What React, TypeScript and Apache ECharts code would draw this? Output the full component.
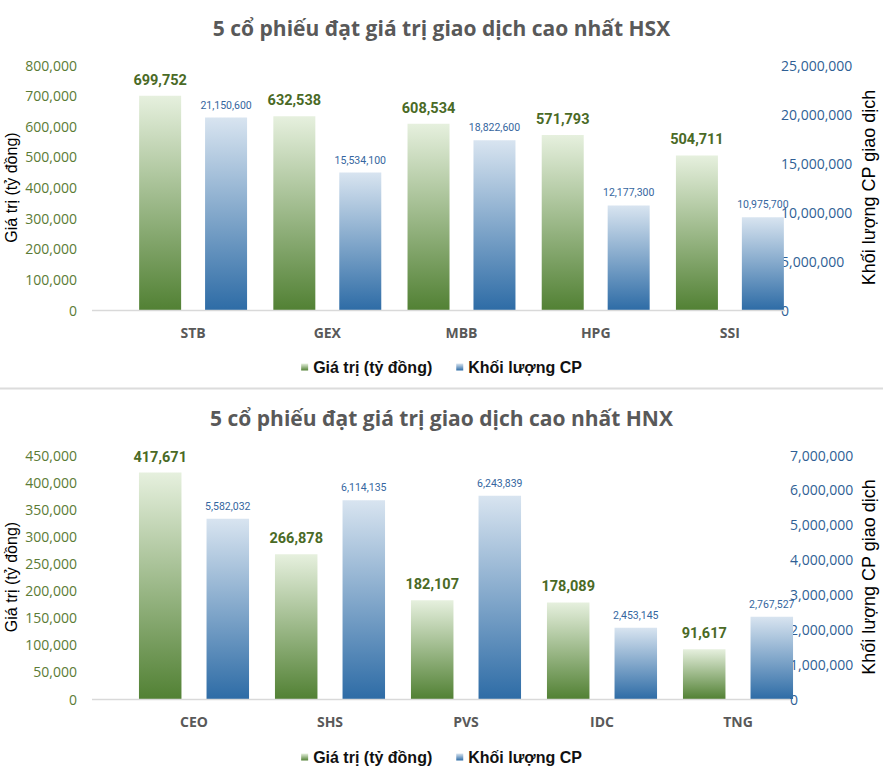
import React, { useEffect, useRef } from "react";
import * as echarts from "echarts";

// ---------- Data ----------
const hsxCategories = ["STB", "GEX", "MBB", "HPG", "SSI"];
const hsxValue = [699752, 632538, 608534, 571793, 504711];
const hsxVolume = [21150600, 15534100, 18822600, 12177300, 10975700];

const hnxCategories = ["CEO", "SHS", "PVS", "IDC", "TNG"];
const hnxValue = [417671, 266878, 182107, 178089, 91617];
const hnxVolume = [5582032, 6114135, 6243839, 2453145, 2767527];

// axis tick ranges (labels): [min, max, interval]
const hsxLeftTicks = [0, 800000, 100000];
const hsxRightTicks = [0, 25000000, 5000000];
const hnxLeftTicks = [0, 450000, 50000];
const hnxRightTicks = [0, 7000000, 1000000];
// the reference's volume bars sit slightly below their labelled scale
const hsxVolumeScale = [1510000, 26510000];
const hnxVolumeScale = [410000, 7410000];

const titleHSX = "5 cổ phiếu đạt giá trị giao dịch cao nhất HSX";
const titleHNX = "5 cổ phiếu đạt giá trị giao dịch cao nhất HNX";
const nameValue = "Giá trị (tỷ đồng)";
const nameVolume = "Khối lượng CP";
const leftAxisName = "Giá trị (tỷ đồng)";
const rightAxisName = "Khối lượng CP giao dịch";

const fmt = (v: number) => Number(v).toLocaleString("en-US");

const GREEN_TICK = "#5b7b35";
const GREEN_LABEL = "#4a6a26";
const BLUE_TICK = "#2f5f95";
const BLUE_LABEL = "#3566a0";
const NARROW = "'Liberation Sans Narrow','Arial Narrow',Roboto,sans-serif";

const greenGrad = () =>
  new echarts.graphic.LinearGradient(0, 0, 0, 1, [
    { offset: 0, color: "#e6f0de" },
    { offset: 1, color: "#528134" },
  ]);
const blueGrad = () =>
  new echarts.graphic.LinearGradient(0, 0, 0, 1, [
    { offset: 0, color: "#d8e4f0" },
    { offset: 1, color: "#2e6ca6" },
  ]);

function leftAxis(grid: number, t: number[]) {
  return {
    gridIndex: grid,
    type: "value",
    position: "left",
    min: t[0],
    max: t[1],
    interval: t[2],
    offset: 41,
    axisLine: { show: false },
    axisTick: { show: false },
    splitLine: { show: false },
    axisLabel: {
      margin: 8,
      formatter: fmt,
      color: GREEN_TICK,
      fontFamily: "'Open Sans', sans-serif",
      fontSize: 14,
    },
    name: leftAxisName,
    nameLocation: "middle",
    nameRotate: 90,
    nameGap: 66,
    nameMoveOverlap: false,
    nameTextStyle: { fontFamily: "'Liberation Sans', Arial, sans-serif", fontSize: 16, color: "#000" },
  };
}
function hiddenAxis(grid: number, s: number[]) {
  return { gridIndex: grid, type: "value", position: "right", show: false, min: s[0], max: s[1] };
}
function rightAxis(grid: number, t: number[], gap: number) {
  return {
    gridIndex: grid,
    type: "value",
    position: "right",
    min: t[0],
    max: t[1],
    interval: t[2],
    offset: -20,
    axisLine: { show: false },
    axisTick: { show: false },
    splitLine: { show: false },
    axisLabel: {
      margin: 4,
      formatter: fmt,
      color: BLUE_TICK,
      fontFamily: "'Open Sans', sans-serif",
      fontSize: 14,
    },
    name: rightAxisName,
    nameLocation: "middle",
    nameRotate: 90,
    nameGap: gap,
    nameMoveOverlap: false,
    nameTextStyle: { fontFamily: "'Liberation Sans', Arial, sans-serif", fontSize: 18, color: "#000" },
  };
}
function catAxis(grid: number, data: string[]) {
  return {
    gridIndex: grid,
    type: "category",
    data,
    axisLine: { show: false },
    axisTick: { show: false },
    axisLabel: {
      margin: 15,
      fontFamily: "'Open Sans', sans-serif",
      fontWeight: "bold",
      fontSize: 14,
      color: "#595959",
    },
  };
}
function valueSeries(x: number, y: number, data: number[], bw: number, gap: string) {
  return {
    type: "bar",
    name: nameValue,
    xAxisIndex: x,
    yAxisIndex: y,
    data,
    barWidth: bw,
    barGap: gap,
    itemStyle: { color: greenGrad() },
    label: {
      show: true,
      position: "top",
      distance: 8,
      formatter: (p: any) => fmt(p.value),
      fontFamily: NARROW,
      fontWeight: "bold",
      fontSize: 14.5,
      color: GREEN_LABEL,
    },
  };
}
function volumeSeries(x: number, y: number, data: number[], bw: number, gap: string) {
  return {
    type: "bar",
    name: nameVolume,
    xAxisIndex: x,
    yAxisIndex: y,
    data,
    barWidth: bw,
    barGap: gap,
    clip: true,
    itemStyle: { color: blueGrad() },
    label: {
      show: true,
      position: "top",
      distance: 7,
      formatter: (p: any) => fmt(p.value),
      fontFamily: NARROW,
      fontSize: 10.5,
      color: BLUE_LABEL,
    },
  };
}
function legend(top: number) {
  return {
    top,
    left: "center",
    icon: "rect",
    itemWidth: 7,
    itemHeight: 7,
    itemGap: 24,
    selectedMode: false,
    data: [nameValue, nameVolume],
    textStyle: {
      fontFamily: "'Liberation Sans', Arial, sans-serif",
      fontWeight: "bold",
      fontSize: 16,
      color: "#111",
    },
  };
}
function title(text: string, top: number) {
  return {
    text,
    left: "center",
    top,
    textStyle: {
      fontFamily: "'Open Sans', sans-serif",
      fontWeight: "bold",
      fontSize: 21,
      color: "#595959",
    },
  };
}

export default function App() {
  const ref = useRef<HTMLDivElement>(null);
  useEffect(() => {
    if (!ref.current) return;
    const chart = echarts.init(ref.current, undefined, { renderer: "svg" });
    chart.setOption({
      animation: false,
      backgroundColor: "#ffffff",
      title: [title(titleHSX, 12), title(titleHNX, 402)],
      legend: [legend(354), legend(744)],
      grid: [
        { left: 126, width: 671, top: 65, height: 245, outerBoundsMode: "none" },
        { left: 126, width: 680, top: 455, height: 244, outerBoundsMode: "none" },
      ],
      xAxis: [catAxis(0, hsxCategories), catAxis(1, hnxCategories)],
      yAxis: [
        leftAxis(0, hsxLeftTicks),
        hiddenAxis(0, hsxVolumeScale),
        rightAxis(0, hsxRightTicks, 83),
        leftAxis(1, hnxLeftTicks),
        hiddenAxis(1, hnxVolumeScale),
        rightAxis(1, hnxRightTicks, 74),
      ],
      series: [
        valueSeries(0, 0, hsxValue, 42, "57%"),
        volumeSeries(0, 1, hsxVolume, 42, "57%"),
        valueSeries(1, 3, hnxValue, 42.5, "59%"),
        volumeSeries(1, 4, hnxVolume, 42.5, "59%"),
      ],
      graphic: [
        { type: "line", z: 10, shape: { x1: 0, y1: 388.5, x2: 883, y2: 388.5 }, style: { stroke: "#dcdcdc", lineWidth: 2 } },
        { type: "line", z: 10, shape: { x1: 92, y1: 310.5, x2: 785, y2: 310.5 }, style: { stroke: "#d9d9d9", lineWidth: 1.5 } },
        { type: "line", z: 10, shape: { x1: 92, y1: 699.5, x2: 790, y2: 699.5 }, style: { stroke: "#d9d9d9", lineWidth: 1.5 } },
      ],
    });
    return () => chart.dispose();
  }, []);
  return (
    <div
      ref={ref}
      style={{ position: "absolute", left: 0, top: 0, width: 883, height: 780 }}
    />
  );
}
